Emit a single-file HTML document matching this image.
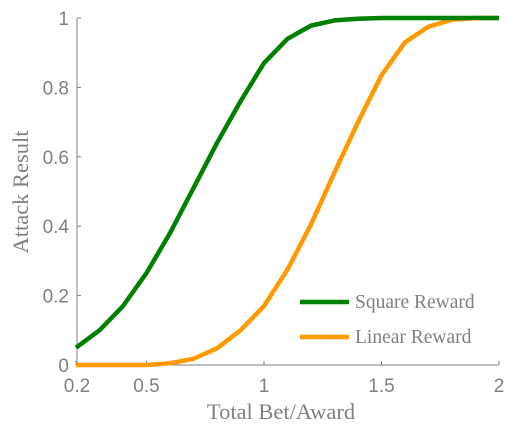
<!DOCTYPE html>
<html><head><meta charset="utf-8"><style>body{margin:0;background:#fff}svg{display:block}</style></head>
<body>
<svg id="chart" width="508" height="427" xmlns="http://www.w3.org/2000/svg"></svg>
<script>
const xValues=[0.2,0.3,0.4,0.5,0.6,0.7,0.8,0.9,1.0,1.1,1.2,1.3,1.4,1.5,1.6,1.7,1.8,1.9,2.0];
const squareReward=[0.05,0.10,0.17,0.265,0.38,0.51,0.64,0.76,0.87,0.94,0.978,0.993,0.998,1,1,1,1,1,1];
const linearReward=[0,0,0,0,0.005,0.018,0.048,0.10,0.17,0.275,0.405,0.555,0.70,0.835,0.93,0.975,0.995,1,1];
const xTicks=[0.2,0.5,1,1.5,2];
const xTickLabels=["0.2","0.5","1","1.5","2"];
const yTicks=[0,0.2,0.4,0.6,0.8,1];
const yTickLabels=["0","0.2","0.4","0.6","0.8","1"];

const svg=document.getElementById('chart');
const NS='http://www.w3.org/2000/svg';
const X0=76,X1=499,Y0=365,Y1=18,xmin=0.2,xmax=2;
function sx(v){return X0+(v-xmin)/(xmax-xmin)*(X1-X0);}
function sy(v){return Y0-v*(Y0-Y1);}
function mk(tag,attrs,parent){const e=document.createElementNS(NS,tag);for(const k in attrs)e.setAttribute(k,attrs[k]);(parent||svg).appendChild(e);return e;}
const gray='#808080';
const yAxis=mk('line',{x1:X0+1,y1:Y1,x2:X0+1,y2:Y0,stroke:gray,'stroke-width':1});


const xAxis=mk('line',{x1:X0+1,y1:Y0,x2:X1,y2:Y0,stroke:gray,'stroke-width':1});


yTicks.forEach((t,i)=>{
  mk('line',{x1:X0+1,x2:X0+5,y1:sy(t),y2:sy(t),stroke:gray});
  const tx=mk('text',{x:X0-7,y:sy(t)+7,'text-anchor':'end','font-family':'Liberation Sans, sans-serif','font-size':19,fill:gray});
  tx.textContent=yTickLabels[i];
  
  
});
xTicks.forEach((t,i)=>{
  mk('line',{x1:sx(t),x2:sx(t),y1:Y0,y2:Y0-4,stroke:gray});
  const tx=mk('text',{x:sx(t)+(i==0?1:0),y:Y0+27,'text-anchor':'middle','font-family':'Liberation Sans, sans-serif','font-size':19,fill:gray});
  tx.textContent=xTickLabels[i];
  
  
});
const xt=mk('text',{x:281,y:419,'text-anchor':'middle','font-family':'Liberation Serif, serif','font-size':22.5,fill:gray});
xt.textContent='Total Bet/Award';


const yt=mk('text',{x:0,y:0,'text-anchor':'middle','font-family':'Liberation Serif, serif','font-size':22.5,fill:gray,transform:'translate(28,192) rotate(-90)'});
yt.textContent='Attack Result';


function line(data,color,name){
  const p=mk('polyline',{points:xValues.map((x,i)=>sx(x)+','+sy(data[i])).join(' '),fill:'none',stroke:color,'stroke-width':4.5,'stroke-linejoin':'round'});
  
  
}
line(linearReward,'#ff9900','linear-reward-line');
line(squareReward,'#008000','square-reward-line');
[['Square Reward','#008000',302],['Linear Reward','#ff9900',337]].forEach(([lab,c,y])=>{
  const g=mk('g',{});
  
  
  mk('line',{x1:300,x2:349,y1:y,y2:y,stroke:c,'stroke-width':4.5},g);
  const t=mk('text',{x:355,y:y+6,'font-family':'Liberation Serif, serif','font-size':19.5,fill:gray},g);
  t.textContent=lab;
});
</script>
</body></html>
